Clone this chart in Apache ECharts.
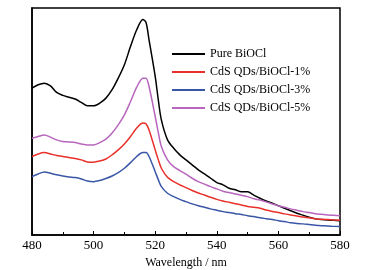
<!DOCTYPE html>
<html>
<head>
<meta charset="utf-8">
<script src="https://cdn.jsdelivr.net/npm/echarts@6/dist/echarts.min.js"></script>
<style>
  html, body { margin: 0; padding: 0; background: #fff; }
  #chart { width: 365px; height: 270px; }
</style>
</head>
<body>
<div id="chart"></div>
<script>
// wavelength (nm)
const wavelength = [480, 482, 484, 486, 488, 490, 492, 494, 496, 498, 500, 502, 504, 506, 508, 510, 512, 514, 516, 517, 518, 520, 521, 522, 524, 526, 528, 530, 532, 534, 536, 538, 540, 542, 544, 546, 548, 550, 552, 554, 556, 558, 560, 562, 564, 566, 568, 570, 572, 574, 576, 578, 580]

// intensity (a.u.)
const pureBiOCl = [64.7, 66.2, 66.9, 65.7, 62.8, 61.5, 60.7, 59.9, 58.4, 56.9, 56.9, 58.1, 60.3, 64, 69.1, 75, 83.1, 90.4, 94.9, 93.7, 86, 69.9, 59.6, 50.7, 41.9, 38.2, 35.3, 33.1, 30.9, 28.7, 26.9, 25, 23.1, 22.1, 20.6, 19.9, 19, 19, 17.6, 16.2, 15, 14, 12.9, 11.8, 10.7, 9.6, 8.7, 7.8, 7.1, 6.8, 6.6, 6.5, 6.3]
const cds1 = [34.6, 35.7, 36.3, 35.7, 35, 34.6, 34.1, 33.7, 33.1, 32.2, 32.1, 32.6, 33.5, 35.3, 37.5, 40.1, 43.4, 47.1, 49.3, 49, 46.3, 37.5, 33.2, 29.4, 25.4, 23.5, 22.1, 20.9, 19.6, 18.5, 17.6, 16.6, 15.7, 15, 14.4, 13.8, 13.2, 12.6, 12.2, 11.8, 11, 10.4, 9.9, 9.3, 8.8, 8.4, 7.9, 7.6, 7.2, 6.9, 6.8, 6.6, 6.5]
const cds3 = [25.7, 26.9, 27.8, 27.2, 26.5, 26, 25.6, 25.3, 24.7, 23.8, 23.5, 24, 24.9, 26, 27.5, 29.4, 31.9, 34.6, 36.3, 36.3, 34.6, 27.9, 24.4, 21.3, 18.4, 16.9, 15.7, 14.7, 13.7, 12.9, 12.2, 11.5, 10.9, 10.3, 9.9, 9.4, 9, 8.5, 8.1, 7.6, 7.2, 6.8, 6.3, 5.9, 5.4, 5.1, 4.9, 4.6, 4.3, 4.1, 4, 3.8, 3.7]
const cds5 = [42.6, 43.4, 44.1, 43.1, 41.9, 41.2, 41, 40.7, 40.1, 39.6, 39.7, 40.7, 42.2, 44.9, 48.5, 52.9, 58.8, 65.1, 69.1, 69.1, 65.4, 52.2, 45.2, 39, 33.1, 30.1, 28.4, 26.8, 25, 23.5, 22.4, 21.3, 20.3, 19.3, 18.7, 18.1, 17.5, 16.9, 16, 15.4, 14.6, 13.7, 12.8, 12.2, 11.5, 10.9, 10.3, 9.9, 9.4, 9.1, 8.8, 8.7, 8.5]

const seriesNames = ['Pure BiOCl', 'CdS QDs/BiOCl-1%', 'CdS QDs/BiOCl-3%', 'CdS QDs/BiOCl-5%']
const seriesColors = ['#000000', '#e8312a', '#3a56a6', '#b866bd']
const seriesData = [pureBiOCl, cds1, cds3, cds5]

const font = 'Liberation Serif, Times New Roman, serif'
const chart = echarts.init(document.getElementById('chart'))

const option = {
  animation: false,
  backgroundColor: '#fff',
  grid: {
    left: 32,
    right: 25,
    top: 8,
    bottom: 35,
    outerBoundsMode: 'none',
    show: true,
    borderColor: '#000',
    borderWidth: 1.5
  },
  legend: {
    orient: 'vertical',
    left: 167,
    top: 43,
    itemWidth: 33,
    itemHeight: 10,
    itemGap: 6,
    icon: 'path://M0,4 L33,4 L33,6 L0,6 Z',
    textStyle: { fontFamily: font, fontSize: 12, color: '#000', padding: [0, 0, 0, 0] },
    data: seriesNames
  },
  xAxis: {
    type: 'value',
    min: 480,
    max: 580,
    interval: 20,
    name: 'Wavelength / nm',
    nameLocation: 'middle',
    nameGap: 14,
    nameTextStyle: { fontFamily: font, fontSize: 12, color: '#000' },
    axisLine: { lineStyle: { color: '#000', width: 1.5 } },
    axisTick: { inside: true, length: 4, lineStyle: { color: '#000', width: 1 } },
    minorTick: { show: true, splitNumber: 2, length: 3, lineStyle: { color: '#000', width: 1 } },
    axisLabel: { fontFamily: font, fontSize: 13, color: '#000', margin: 4 },
    splitLine: { show: false }
  },
  yAxis: {
    type: 'value',
    min: 0,
    max: 100,
    axisLine: { show: true, lineStyle: { color: '#000', width: 1.5 } },
    axisTick: { show: false },
    axisLabel: { show: false },
    splitLine: { show: false }
  },
  series: seriesNames.map((name, i) => ({
    name: name,
    type: 'line',
    showSymbol: false,
    smooth: 0.3,
    color: seriesColors[i],
    lineStyle: { width: 1.5, color: seriesColors[i] },
    data: wavelength.map((w, j) => [w, seriesData[i][j]])
  }))
}

chart.setOption(option)
</script>
</body>
</html>
